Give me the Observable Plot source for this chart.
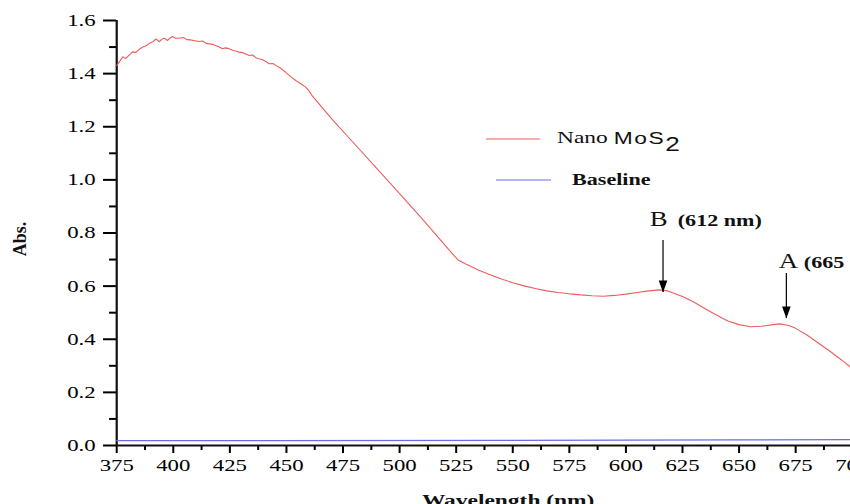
<!DOCTYPE html>
<html><head><meta charset="utf-8">
<script src="https://cdn.jsdelivr.net/npm/d3@7"></script>
<script src="https://cdn.jsdelivr.net/npm/@observablehq/plot@0.6"></script>
<style>
html,body{margin:0;padding:0;background:#fff;overflow:hidden}
#wrap{position:relative;width:850px;height:504px;overflow:hidden;background:#fff}
#wrap svg.chart path, #wrap svg.chart line{vector-effect:non-scaling-stroke}
</style></head><body><div id="wrap"></div>
<script>
// ---- data ----
const moS2Wavelength = [375,376.5,377.7,379,380.5,382,383.5,385,386.5,388,389.4,391,392.4,393.8,395,396,397.5,398.7,399.7,401,402.7,404.5,406,407.5,409.5,411.5,413,414.5,416,417.5,419,420.4,421.7,423,424.6,426.5,428,429,431,433.5,435,436.5,437.9,439.5,441,442.3,444,445.3,447.5,449.7,452,454.1,456,458.5,460,461.5,470,480,490,500,510,520,524.3,526,529,532,535,540,545,550,555,560,565,570,575,580,585,590,595,600,605,610,615,618,620,625,630,635,640,645,650,655,660,665,668,672,675,680,685,690,695,700];
const moS2Abs = [1.430,1.448,1.463,1.457,1.470,1.482,1.480,1.492,1.500,1.505,1.514,1.520,1.531,1.520,1.530,1.533,1.525,1.535,1.540,1.533,1.533,1.536,1.528,1.527,1.524,1.521,1.523,1.514,1.512,1.510,1.505,1.500,1.494,1.497,1.494,1.487,1.484,1.481,1.478,1.468,1.470,1.460,1.456,1.452,1.445,1.437,1.438,1.431,1.420,1.405,1.388,1.374,1.364,1.349,1.335,1.315,1.230,1.136,1.042,0.948,0.853,0.754,0.713,0.697,0.684,0.672,0.660,0.643,0.627,0.613,0.601,0.591,0.582,0.576,0.571,0.567,0.564,0.562,0.565,0.570,0.576,0.582,0.586,0.583,0.577,0.561,0.540,0.515,0.491,0.469,0.455,0.447,0.449,0.455,0.458,0.452,0.441,0.416,0.386,0.356,0.324,0.290];
const baselineWavelength = [375,440,550,650,700];
const baselineAbs = [0.018,0.018,0.019,0.021,0.022];

const xMajorTicks = [375,400,425,450,475,500,525,550,575,600,625,650,675,700];
const xMinorTicks = [387.5,412.5,437.5,462.5,487.5,512.5,537.5,562.5,587.5,612.5,637.5,662.5,687.5];
const yMajorTicks = [0,0.2,0.4,0.6,0.8,1.0,1.2,1.4,1.6];
const yMinorTicks = [0.1,0.3,0.5,0.7,0.9,1.1,1.3,1.5];

const seriesNames = ["Nano MoS2","Baseline"];
const seriesColors = ["#ee5c5c","#6b6be6"];

const peakLetters = ["B","A"];
const peakNotes = ["(612 nm)","(665 nm)"];
const peakX = [616.4,670.9];
const peakArrowTop = [0.772,0.648];
const peakArrowTip = [0.576,0.478];
const peakLetterX = [610.5,667.5];
const peakNoteX = [622.9,678.6];
const peakLabelY = [0.8245,0.670];

const xLabel = "Wavelength (nm)";
const yLabel = "Abs.";

// ---- build ----
const S = 1.34, W = 636, H = 504;
const curve = moS2Wavelength.map((x,i)=>({x, y: moS2Abs[i]}));
const base = baselineWavelength.map((x,i)=>({x, y: baselineAbs[i]}));
const peaks = peakLetters.map((l,i)=>({letter:l, note:peakNotes[i], x:peakX[i], top:peakArrowTop[i], tip:peakArrowTip[i], lx:peakLetterX[i], nx:peakNoteX[i], ly:peakLabelY[i]}));
const downTri = {draw(ctx){ctx.moveTo(-3.2,-12);ctx.lineTo(3.2,-12);ctx.lineTo(0,0);ctx.closePath();}};
const serif = "'Liberation Serif','Times New Roman',serif";

const chart = Plot.plot({
  width: W, height: H,
  marginLeft: 86.6, marginRight: 0.5, marginTop: 20, marginBottom: 59,
  x: {domain: [375,700]},
  y: {domain: [0,1.6]},
  style: {fontFamily: serif, fontSize: "17px", color: "#000", background: "#fff"},
  marks: [
    Plot.axisY({ticks: yMajorTicks, tickSize: 9.7, tickPadding: 6, tickFormat: d => d.toFixed(1), label: null, fontSize: 17, strokeWidth: 2}),
    Plot.axisY({ticks: yMinorTicks, tickSize: 5.2, tickFormat: () => "", label: null, strokeWidth: 2}),
    Plot.axisX({ticks: xMajorTicks, tickSize: 8, tickPadding: 5, tickFormat: d => String(d), label: null, fontSize: 17, strokeWidth: 2}),
    Plot.axisX({ticks: xMinorTicks, tickSize: 5, tickFormat: () => "", label: null, strokeWidth: 2}),
    Plot.ruleX([375], {y1: 0, y2: 1.6, strokeWidth: 2.2, stroke: "#111"}),
    Plot.ruleY([0], {strokeWidth: 2.2, stroke: "#111"}),
    Plot.line(base, {x: "x", y: "y", stroke: seriesColors[1], strokeWidth: 1.2}),
    Plot.line(curve, {x: "x", y: "y", stroke: seriesColors[0], strokeWidth: 1.1}),
    Plot.ruleX(peaks, {x: "x", y1: "top", y2: "tip", stroke: "#000", strokeWidth: 1.2}),
    Plot.dot(peaks, {x: "x", y: "tip", symbol: downTri, fill: "#000", stroke: null, r: 4}),
    Plot.text(peaks, {x: "lx", y: "ly", text: "letter", textAnchor: "start", lineAnchor: "bottom", fontSize: 20, fill: "#111"}),
    Plot.text(peaks, {x: "nx", y: "ly", text: "note", textAnchor: "start", lineAnchor: "bottom", fontSize: 16.5, fontWeight: "bold", fill: "#111"}),
    Plot.text([xLabel], {frameAnchor: "bottom", textAnchor: "middle", lineAnchor: "top", dx: 17.7, dy: 48, fontSize: 17.5, fontWeight: "bold", fill: "#111"})
  ]
});
chart.classList.add("chart");
chart.setAttribute("preserveAspectRatio", "none");
chart.style.position = "absolute";
chart.style.left = "0px";
chart.style.top = "0px";
chart.style.maxWidth = "none";
chart.style.width = (W * S) + "px";
chart.style.height = H + "px";
document.getElementById("wrap").appendChild(chart);

// ---- overlay: legend and y label ----
const ov = d3.select("#wrap").append("svg")
  .attr("width", 850).attr("height", 504)
  .style("position", "absolute").style("left", "0px").style("top", "0px");

const legendRows = [
  {x1: 486, x2: 540, y: 139, tx: 557, ty: 143},
  {x1: 496, x2: 551, y: 180, tx: 572, ty: 185}
];
seriesNames.forEach((name, i) => {
  const r = legendRows[i];
  ov.append("line").attr("x1", r.x1).attr("x2", r.x2).attr("y1", r.y).attr("y2", r.y)
    .attr("stroke", seriesColors[i]).attr("stroke-width", 1.2);
  const t = ov.append("text").attr("transform", `translate(${r.tx},${r.ty}) scale(${S},1)`)
    .attr("fill", "#111").style("font-family", serif);
  const m = name.match(/^(\S+) (\D+)(\d+)$/);
  if (m) {
    t.style("font-size", "17.5px");
    t.append("tspan").text(m[1] + " ");
    t.append("tspan").text(m[2]).style("font-family", "'Liberation Sans',Arial,sans-serif").style("font-size", "17px").style("letter-spacing", "1.2px").attr("dy", 1);
    t.append("tspan").text(m[3]).style("font-family", "'Liberation Sans',Arial,sans-serif").style("font-size", "19.5px").attr("dx", 0).attr("dy", 6.5);
  } else {
    t.text(name).style("font-size", "16.5px").style("font-weight", "bold");
  }
});
ov.append("text").attr("transform", "translate(20,239) rotate(-90)")
  .attr("text-anchor", "middle").attr("dy", "0.35em")
  .style("font-family", serif).style("font-size", "18px").style("font-weight", "bold")
  .attr("fill", "#111").text(yLabel);
</script></body></html>
